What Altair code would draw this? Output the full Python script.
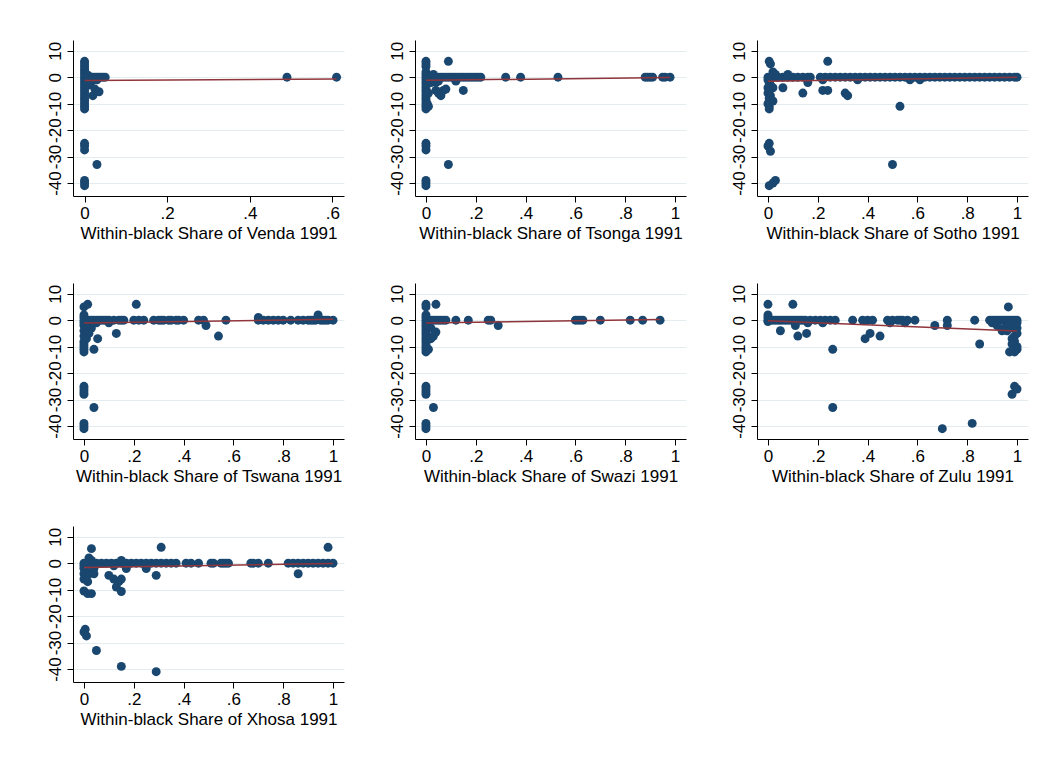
import altair as alt
import pandas as pd

NAVY = "#1a476f"
MAROON = "#90353b"
GRID = "#e3ecee"
FONT = "Liberation Sans"

GROUPS = ["Venda", "Tsonga", "Sotho", "Tswana", "Swazi", "Zulu", "Xhosa"]

VENDA_PTS = [
    (0, 6), (0, 5), (0, 4), (0, 3), (0, 2), (0, 1), (0, 0), (0, -1), (0, -2), (0, -3),
    (0, -4), (0, -5), (0, -6), (0, -7), (0, -8), (0, -9), (0, -10), (0, -11), (0, -12),
    (0, -25), (0, -26), (0, -27.5), (0, -39), (0, -40), (0, -41),
    (0.005, 1), (0.01, 0.5), (0.015, 0), (0.02, 0), (0.025, 0), (0.03, 0), (0.035, 0),
    (0.04, 0), (0.045, 0), (0.05, 0), (0.01, -1), (0.015, -2), (0.01, -3), (0.02, -1),
    (0.03, -1), (0.025, -4.5), (0.035, -5.5), (0.02, -7), (0.03, -33),
    (0.49, 0), (0.61, 0),
]

TSONGA_PTS = [
    (0, 6), (0, 5), (0, 4), (0, 2), (0, 1), (0, 0), (0, -1), (0, -2), (0, -3), (0, -4),
    (0, -5), (0, -6), (0, -7), (0, -8), (0, -9), (0, -10), (0, -11), (0, -12),
    (0, -25), (0, -26), (0, -27.5), (0, -39), (0, -40), (0, -41),
    (0.09, 6), (0.09, -33),
    (0.01, 0), (0.02, 0), (0.03, 0), (0.04, 0), (0.05, 0), (0.06, 0), (0.07, 0), (0.08, 0),
    (0.09, 0), (0.1, 0), (0.11, 0), (0.12, 0), (0.13, 0), (0.14, 0), (0.15, 0), (0.16, 0),
    (0.17, 0), (0.18, 0), (0.19, 0), (0.2, 0), (0.21, 0), (0.22, 0),
    (0.32, 0), (0.38, 0), (0.53, 0), (0.88, 0), (0.89, 0), (0.9, 0), (0.91, 0),
    (0.95, 0), (0.96, 0), (0.98, 0),
    (0.03, 1), (0.02, -2), (0.04, -2), (0.05, -1.5), (0.04, -5), (0.05, -6), (0.06, -7),
    (0.07, -5), (0.08, -4.5), (0.12, -1.5), (0.15, -5), (0.01, -11), (0.005, -10), (0.01, -6),
]

SOTHO_PTS = [
    (0.005, 6), (0.01, 5), (0.02, 2), (0.03, 1), (0, 0), (0, -1), (0.005, -2), (0.01, -3),
    (0, -4), (0.02, -4), (0.005, -5), (0, -6), (0.01, -7), (0.005, -8), (0.02, -9),
    (0, -10), (0.005, -11), (0.005, -12), (0.005, -25), (0, -26), (0.01, -28),
    (0.005, -41), (0.02, -40), (0.03, -39),
    (0.02, 0), (0.04, 0), (0.06, 0), (0.08, 0), (0.1, 0), (0.12, 0), (0.14, 0), (0.16, 0),
    (0.17, 0), (0.21, 0), (0.23, 0), (0.25, 0), (0.27, 0), (0.29, 0), (0.31, 0), (0.33, 0),
    (0.35, 0), (0.37, 0), (0.39, 0), (0.41, 0), (0.43, 0), (0.45, 0), (0.47, 0), (0.49, 0),
    (0.51, 0), (0.53, 0), (0.55, 0), (0.57, 0), (0.59, 0), (0.61, 0), (0.63, 0), (0.65, 0),
    (0.67, 0), (0.69, 0), (0.71, 0), (0.73, 0), (0.75, 0), (0.77, 0), (0.79, 0), (0.81, 0),
    (0.83, 0), (0.85, 0), (0.87, 0), (0.89, 0), (0.91, 0), (0.93, 0), (0.95, 0), (0.97, 0),
    (0.99, 0), (1.0, 0),
    (0.06, -4), (0.08, 1), (0.14, -6), (0.16, -2), (0.22, -1), (0.22, -5), (0.24, -5),
    (0.24, 6), (0.31, -6), (0.32, -7), (0.36, -1), (0.5, -33), (0.53, -11), (0.57, -1),
    (0.61, -1),
]

TSWANA_PTS = [
    (0, 5), (0.015, 6), (0, 2), (0, 1), (0, 0), (0, -1), (0, -2), (0.01, -3), (0, -4),
    (0.01, -5), (0, -6), (0.01, -7), (0, -8), (0, -9), (0, -10), (0, -11), (0, -12),
    (0, -25), (0, -26), (0, -27), (0, -28), (0, -39), (0, -40), (0, -41),
    (0.02, -2), (0.03, -3), (0.02, -5), (0.04, -33), (0.04, -11), (0.055, -7),
    (0.01, 0), (0.02, 0), (0.03, 0), (0.04, 0), (0.05, 0), (0.06, 0), (0.07, 0), (0.08, 0),
    (0.09, 0), (0.1, 0), (0.12, 0), (0.14, 0), (0.15, 0), (0.16, 0), (0.2, 0), (0.22, 0),
    (0.24, 0), (0.28, 0), (0.3, 0), (0.31, 0), (0.32, 0), (0.34, 0), (0.35, 0), (0.37, 0),
    (0.38, 0), (0.4, 0), (0.46, 0), (0.48, 0), (0.57, 0), (0.7, 0), (0.72, 0), (0.74, 0),
    (0.76, 0), (0.78, 0), (0.8, 0), (0.83, 0), (0.86, 0), (0.88, 0), (0.9, 0), (0.91, 0),
    (0.92, 0), (0.93, 0), (0.95, 0), (0.96, 0), (0.97, 0), (0.98, 0), (1.0, 0),
    (0.05, -1), (0.1, -1), (0.13, -5), (0.21, 6), (0.49, -2), (0.54, -6), (0.7, 1), (0.94, 2),
]

SWAZI_PTS = [
    (0, 6), (0, 5), (0, 2), (0, 1), (0, 0), (0, -1), (0, -2), (0, -3), (0, -4), (0, -5),
    (0, -6), (0, -7), (0, -8), (0, -9), (0, -10), (0, -11), (0, -12), (0.01, -11),
    (0, -25), (0, -26), (0, -27), (0, -28), (0, -39), (0, -40), (0, -41),
    (0.03, -33), (0.04, 6), (0.04, -4.5), (0.03, -6), (0.02, -7), (0.02, -3), (0.01, -2),
    (0.01, 0), (0.02, 0), (0.03, 0), (0.04, 0), (0.05, 0), (0.06, 0), (0.07, 0), (0.08, 0),
    (0.12, 0), (0.17, 0), (0.25, 0), (0.26, 0), (0.6, 0), (0.61, 0), (0.62, 0), (0.63, 0),
    (0.7, 0), (0.82, 0), (0.87, 0), (0.94, 0),
    (0.29, -2),
]

ZULU_PTS = [
    (0, 6), (0, 2), (0, 1), (0, 0), (0, -0.5),
    (0.01, 0), (0.02, 0), (0.03, 0), (0.04, 0), (0.05, 0), (0.06, 0), (0.07, 0), (0.08, 0),
    (0.09, 0), (0.1, 0), (0.11, 0), (0.12, 0), (0.13, 0), (0.14, 0), (0.15, 0), (0.17, 0),
    (0.19, 0), (0.21, 0), (0.23, 0), (0.25, 0), (0.27, 0), (0.34, 0), (0.38, 0), (0.4, 0),
    (0.42, 0), (0.48, 0), (0.5, 0), (0.52, 0), (0.53, 0), (0.54, 0), (0.56, 0), (0.59, 0),
    (0.72, 0), (0.83, 0), (0.89, 0), (0.9, 0), (0.91, 0), (0.92, 0), (0.93, 0), (0.94, 0),
    (0.95, 0), (0.96, 0), (0.97, 0), (0.98, 0), (0.99, 0), (1.0, 0),
    (0.05, -4), (0.1, 6), (0.11, -2), (0.12, -6), (0.155, -5), (0.16, -1), (0.22, -1),
    (0.26, -11), (0.26, -33), (0.39, -7), (0.41, -5), (0.45, -6), (0.49, -1), (0.55, -1),
    (0.67, -2), (0.72, -2), (0.7, -41), (0.82, -39), (0.85, -9), (0.965, 5), (0.97, -12),
    (0.99, -12), (1.0, -11), (0.99, -25), (1.0, -26), (0.98, -28), (0.98, -7), (0.99, -6),
    (1.0, -5), (0.94, -4), (0.95, -3), (0.97, -2), (0.99, -1), (1.0, -3), (0.9, -1),
    (0.92, -2), (0.96, -4), (0.99, -8), (1.0, -10), (0.98, -9), (0.985, -3), (1.0, -1),
]

XHOSA_PTS = [
    (0, 0), (0, -1), (0, -2), (0.01, -3), (0, -4), (0.01, -5), (0, -6), (0.015, -7),
    (0.02, -4), (0.02, 2), (0.03, 5.5), (0.03, 1), (0.04, -4), (0.04, -2), (0, -10.5),
    (0.015, -11.5), (0.03, -11.5), (0.005, -25), (0, -26), (0.01, -27.5), (0.05, -33),
    (0.15, -39), (0.29, -41),
    (0.01, 0), (0.03, 0), (0.05, 0), (0.07, 0), (0.09, 0), (0.11, 0), (0.13, 0), (0.15, 0),
    (0.17, 0), (0.19, 0), (0.21, 0), (0.23, 0), (0.25, 0), (0.27, 0), (0.29, 0), (0.31, 0),
    (0.33, 0), (0.35, 0), (0.37, 0), (0.41, 0), (0.43, 0), (0.46, 0), (0.51, 0), (0.52, 0),
    (0.55, 0), (0.56, 0), (0.57, 0), (0.58, 0), (0.67, 0), (0.68, 0), (0.7, 0), (0.74, 0),
    (0.82, 0), (0.84, 0), (0.86, 0), (0.88, 0), (0.9, 0), (0.92, 0), (0.94, 0), (0.96, 0),
    (0.98, 0), (1.0, 0),
    (0.1, -4.6), (0.12, -6), (0.13, -9), (0.14, -7), (0.15, -6), (0.15, -10.7), (0.15, 1),
    (0.12, -1), (0.17, -2), (0.25, -2), (0.29, -4.6), (0.31, 6), (0.86, -4), (0.98, 6),
]

POINTS = [VENDA_PTS, TSONGA_PTS, SOTHO_PTS, TSWANA_PTS, SWAZI_PTS, ZULU_PTS, XHOSA_PTS]

# fitted-line end points
FIT_X0 = [0, 0, 0, 0, 0, 0, 0]
FIT_Y0 = [-1.25, -1.2, -1.5, -1.05, -1.1, -0.2, -1.6]
FIT_X1 = [0.61, 0.98, 1.0, 1.0, 0.94, 1.0, 1.0]
FIT_Y1 = [-0.7, -0.1, 0.0, 0.35, 0.3, -4.1, -0.1]

X_TICKS_SHORT = [0, 0.2, 0.4, 0.6]
X_TICKS_FULL = [0, 0.2, 0.4, 0.6, 0.8, 1]
Y_TICKS = [-40, -30, -20, -10, 0, 10]

W, H = 271, 156
Y_EXT = 30
X_LABEL_EXPR = "datum.value == 0 ? '0' : (datum.value == 1 ? '1' : replace(format(datum.value, '.1f'), '0.', '.'))"
Y_LABEL_EXPR = "'' + datum.value"


def panel(i):
    name = GROUPS[i]
    df = pd.DataFrame(POINTS[i], columns=["x", "y"])
    fit = pd.DataFrame({"x": [FIT_X0[i]], "x2": [FIT_X1[i]], "y": [FIT_Y0[i]], "y2": [FIT_Y1[i]]})
    if name == "Venda":
        xdom, xticks = [-0.028, 0.628], X_TICKS_SHORT
    else:
        xdom, xticks = [-0.044, 1.044], X_TICKS_FULL
    xs = alt.Scale(domain=xdom, nice=False, zero=False)
    ys = alt.Scale(domain=[-44.9, 14.05], nice=False, zero=False)
    xaxis = alt.Axis(values=xticks, labelExpr=X_LABEL_EXPR, grid=False, labelOverlap=False,
                     title=f"Within-black Share of {name} 1991")
    yaxis = alt.Axis(values=Y_TICKS, labelExpr=Y_LABEL_EXPR, grid=True, title=None,
                     labelAngle=270, labelOverlap=False,
                     labelAlign="center", labelBaseline="bottom", minExtent=Y_EXT)
    pts = alt.Chart(df).mark_circle(size=80, color=NAVY, opacity=1).encode(
        x=alt.X("x:Q", scale=xs, axis=xaxis),
        y=alt.Y("y:Q", scale=ys, axis=yaxis),
    )
    line = alt.Chart(fit).mark_rule(color=MAROON, strokeWidth=1.5).encode(
        x=alt.X("x:Q", scale=xs, axis=xaxis), x2="x2",
        y=alt.Y("y:Q", scale=ys, axis=yaxis), y2="y2",
    )
    return alt.layer(pts, line).properties(width=W, height=H)


panels = [panel(i) for i in range(7)]
row1 = alt.hconcat(panels[0], panels[1], panels[2], spacing=41)
row2 = alt.hconcat(panels[3], panels[4], panels[5], spacing=41)
row3 = alt.hconcat(panels[6], spacing=41)

chart = alt.vconcat(row1, row2, row3, spacing=42).properties(
    padding={"left": 35, "top": 32, "right": 5, "bottom": 5},
    background="white",
).configure_view(stroke=None).configure_axis(
    labelFont=FONT, titleFont=FONT, labelFontSize=17, titleFontSize=17,
    labelColor="#000", titleColor="#000", titleFontWeight="normal",
    domainColor="#000", tickColor="#000", tickSize=6, labelPadding=3, titlePadding=4,
    gridColor=GRID, gridWidth=1, labelOverlap=False,
)

chart.save("out.html", embed_options={"renderer": "svg", "actions": False})
